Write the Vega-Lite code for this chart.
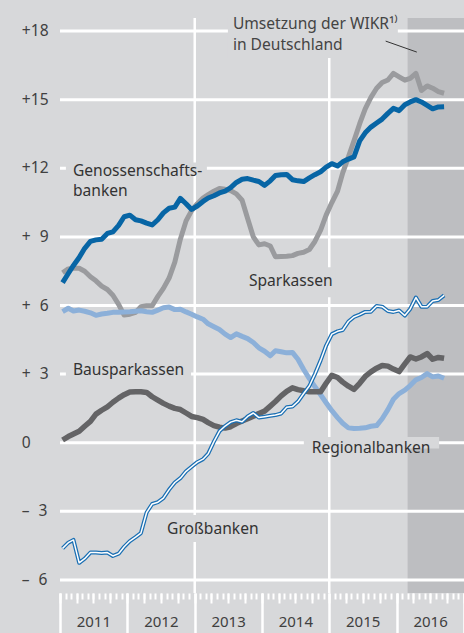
{
  "$schema": "https://vega.github.io/schema/vega-lite/v6.json",
  "width": 404,
  "height": 575,
  "autosize": {"type": "none"},
  "padding": {"left": 60, "top": 18, "right": 0, "bottom": 40},
  "background": "#d7d8da",
  "config": {
    "view": {"stroke": null},
    "font": "Noto Sans",
    "axis": {"labelFont": "Noto Sans", "labelFontSize": 15, "labelColor": "#404040", "grid": false, "domain": false}
  },
  "datasets": {
    "series": [
      {"d": "2011-01-15", "G": 7.0, "S": 7.43, "R": 5.73, "B": 0.12, "GB": -4.62},
      {"d": "2011-02-15", "G": 7.4, "S": 7.6, "R": 5.88, "B": 0.27, "GB": -4.37},
      {"d": "2011-03-15", "G": 7.75, "S": 7.63, "R": 5.76, "B": 0.38, "GB": -4.25},
      {"d": "2011-04-15", "G": 8.1, "S": 7.63, "R": 5.8, "B": 0.5, "GB": -5.25},
      {"d": "2011-05-15", "G": 8.5, "S": 7.5, "R": 5.75, "B": 0.72, "GB": -5.07},
      {"d": "2011-06-15", "G": 8.8, "S": 7.26, "R": 5.68, "B": 0.93, "GB": -4.8},
      {"d": "2011-07-15", "G": 8.87, "S": 7.08, "R": 5.57, "B": 1.25, "GB": -4.8},
      {"d": "2011-08-15", "G": 8.9, "S": 6.85, "R": 5.63, "B": 1.42, "GB": -4.82},
      {"d": "2011-09-15", "G": 9.15, "S": 6.7, "R": 5.66, "B": 1.57, "GB": -4.8},
      {"d": "2011-10-15", "G": 9.22, "S": 6.45, "R": 5.7, "B": 1.77, "GB": -4.95},
      {"d": "2011-11-15", "G": 9.5, "S": 6.05, "R": 5.71, "B": 1.95, "GB": -4.85},
      {"d": "2011-12-15", "G": 9.88, "S": 5.58, "R": 5.72, "B": 2.1, "GB": -4.55},
      {"d": "2012-01-15", "G": 9.95, "S": 5.62, "R": 5.73, "B": 2.22, "GB": -4.3},
      {"d": "2012-02-15", "G": 9.75, "S": 5.7, "R": 5.75, "B": 2.23, "GB": -4.13},
      {"d": "2012-03-15", "G": 9.7, "S": 5.95, "R": 5.77, "B": 2.23, "GB": -3.95},
      {"d": "2012-04-15", "G": 9.6, "S": 5.99, "R": 5.73, "B": 2.2, "GB": -3.05},
      {"d": "2012-05-15", "G": 9.52, "S": 5.99, "R": 5.7, "B": 2.01, "GB": -2.68},
      {"d": "2012-06-15", "G": 9.75, "S": 6.4, "R": 5.8, "B": 1.86, "GB": -2.6},
      {"d": "2012-07-15", "G": 10.05, "S": 6.75, "R": 5.9, "B": 1.72, "GB": -2.42},
      {"d": "2012-08-15", "G": 10.25, "S": 7.2, "R": 5.93, "B": 1.6, "GB": -2.05},
      {"d": "2012-09-15", "G": 10.3, "S": 7.9, "R": 5.82, "B": 1.5, "GB": -1.74},
      {"d": "2012-10-15", "G": 10.68, "S": 8.9, "R": 5.84, "B": 1.45, "GB": -1.55},
      {"d": "2012-11-15", "G": 10.45, "S": 9.7, "R": 5.72, "B": 1.3, "GB": -1.25},
      {"d": "2012-12-15", "G": 10.2, "S": 10.15, "R": 5.62, "B": 1.15, "GB": -1.05},
      {"d": "2013-01-15", "G": 10.35, "S": 10.45, "R": 5.5, "B": 1.1, "GB": -0.85},
      {"d": "2013-02-15", "G": 10.55, "S": 10.7, "R": 5.4, "B": 1.02, "GB": -0.72},
      {"d": "2013-03-15", "G": 10.7, "S": 10.85, "R": 5.2, "B": 0.88, "GB": -0.48},
      {"d": "2013-04-15", "G": 10.8, "S": 11.0, "R": 5.07, "B": 0.75, "GB": 0.05},
      {"d": "2013-05-15", "G": 10.92, "S": 11.12, "R": 4.95, "B": 0.68, "GB": 0.5},
      {"d": "2013-06-15", "G": 11.0, "S": 11.08, "R": 4.75, "B": 0.64, "GB": 0.73},
      {"d": "2013-07-15", "G": 11.15, "S": 11.02, "R": 4.6, "B": 0.7, "GB": 0.9},
      {"d": "2013-08-15", "G": 11.38, "S": 10.88, "R": 4.76, "B": 0.84, "GB": 0.98},
      {"d": "2013-09-15", "G": 11.52, "S": 10.6, "R": 4.65, "B": 0.95, "GB": 0.92},
      {"d": "2013-10-15", "G": 11.55, "S": 9.8, "R": 4.55, "B": 1.05, "GB": 1.15},
      {"d": "2013-11-15", "G": 11.48, "S": 9.0, "R": 4.38, "B": 1.16, "GB": 1.3},
      {"d": "2013-12-15", "G": 11.42, "S": 8.65, "R": 4.15, "B": 1.28, "GB": 1.1},
      {"d": "2014-01-15", "G": 11.25, "S": 8.7, "R": 4.0, "B": 1.38, "GB": 1.14},
      {"d": "2014-02-15", "G": 11.45, "S": 8.6, "R": 3.8, "B": 1.6, "GB": 1.18},
      {"d": "2014-03-15", "G": 11.68, "S": 8.13, "R": 4.02, "B": 1.8, "GB": 1.21},
      {"d": "2014-04-15", "G": 11.72, "S": 8.14, "R": 3.98, "B": 2.05, "GB": 1.28},
      {"d": "2014-05-15", "G": 11.73, "S": 8.15, "R": 3.93, "B": 2.25, "GB": 1.55},
      {"d": "2014-06-15", "G": 11.5, "S": 8.18, "R": 3.95, "B": 2.4, "GB": 1.58},
      {"d": "2014-07-15", "G": 11.45, "S": 8.28, "R": 3.65, "B": 2.32, "GB": 1.8},
      {"d": "2014-08-15", "G": 11.42, "S": 8.33, "R": 3.2, "B": 2.27, "GB": 2.15},
      {"d": "2014-09-15", "G": 11.58, "S": 8.45, "R": 2.8, "B": 2.23, "GB": 2.48},
      {"d": "2014-10-15", "G": 11.72, "S": 8.8, "R": 2.45, "B": 2.23, "GB": 3.0},
      {"d": "2014-11-15", "G": 11.85, "S": 9.3, "R": 2.1, "B": 2.23, "GB": 3.6},
      {"d": "2014-12-15", "G": 12.05, "S": 9.95, "R": 1.75, "B": 2.6, "GB": 4.25},
      {"d": "2015-01-15", "G": 12.2, "S": 10.5, "R": 1.4, "B": 2.95, "GB": 4.75},
      {"d": "2015-02-15", "G": 12.1, "S": 11.0, "R": 1.1, "B": 2.85, "GB": 4.87},
      {"d": "2015-03-15", "G": 12.28, "S": 11.8, "R": 0.85, "B": 2.65, "GB": 4.93},
      {"d": "2015-04-15", "G": 12.4, "S": 12.5, "R": 0.65, "B": 2.47, "GB": 5.3},
      {"d": "2015-05-15", "G": 12.5, "S": 13.2, "R": 0.62, "B": 2.33, "GB": 5.5},
      {"d": "2015-06-15", "G": 13.2, "S": 13.95, "R": 0.63, "B": 2.6, "GB": 5.6},
      {"d": "2015-07-15", "G": 13.55, "S": 14.6, "R": 0.65, "B": 2.9, "GB": 5.72},
      {"d": "2015-08-15", "G": 13.8, "S": 15.1, "R": 0.72, "B": 3.1, "GB": 5.73},
      {"d": "2015-09-15", "G": 13.98, "S": 15.5, "R": 0.75, "B": 3.26, "GB": 5.98},
      {"d": "2015-10-15", "G": 14.15, "S": 15.75, "R": 1.05, "B": 3.38, "GB": 5.95},
      {"d": "2015-11-15", "G": 14.4, "S": 15.86, "R": 1.45, "B": 3.35, "GB": 5.76},
      {"d": "2015-12-15", "G": 14.62, "S": 16.15, "R": 1.9, "B": 3.22, "GB": 5.72},
      {"d": "2016-01-15", "G": 14.52, "S": 16.0, "R": 2.15, "B": 3.11, "GB": 5.78},
      {"d": "2016-02-15", "G": 14.78, "S": 15.85, "R": 2.3, "B": 3.45, "GB": 5.56},
      {"d": "2016-03-15", "G": 14.9, "S": 15.93, "R": 2.5, "B": 3.75, "GB": 5.85},
      {"d": "2016-04-15", "G": 15.0, "S": 16.15, "R": 2.75, "B": 3.66, "GB": 6.35},
      {"d": "2016-05-15", "G": 14.9, "S": 15.4, "R": 2.85, "B": 3.75, "GB": 5.95},
      {"d": "2016-06-15", "G": 14.75, "S": 15.6, "R": 3.02, "B": 3.9, "GB": 5.95},
      {"d": "2016-07-15", "G": 14.6, "S": 15.5, "R": 2.88, "B": 3.65, "GB": 6.2},
      {"d": "2016-08-15", "G": 14.68, "S": 15.35, "R": 2.92, "B": 3.73, "GB": 6.24},
      {"d": "2016-09-15", "G": 14.69, "S": 15.28, "R": 2.82, "B": 3.69, "GB": 6.44}
    ],
    "shade": [{"a": "2016-03-01", "b": "2017-01-01"}],
    "hgrid": [{"v": -6}, {"v": -3}, {"v": 0}, {"v": 3}, {"v": 6}, {"v": 9}, {"v": 12}, {"v": 15}, {"v": 18}],
    "vgrid": [{"d": "2013-01-01"}, {"d": "2015-01-01"}],
    "masks": [
      {"a": "2011-02-02", "b": "2013-03-08", "lo": 11.75, "hi": 12.25},
      {"a": "2011-02-02", "b": "2012-12-12", "lo": 2.75, "hi": 3.25},
      {"a": "2014-08-16", "b": "2016-08-19", "lo": -0.25, "hi": 0.25},
      {"a": "2012-07-13", "b": "2014-01-01", "lo": -4.34, "hi": -3.16},
      {"a": "2013-09-30", "b": "2015-02-06", "lo": 6.36, "hi": 7.67},
      {"a": "2013-06-30", "b": "2016-01-08", "lo": 16.82, "hi": 18.57}
    ],
    "leader": [{"a": "2015-11-03", "b": "2016-04-20", "lo": 17.56, "hi": 17.08}],
    "labels": [
      {"d": "2011-03-12", "v": 11.9, "t": "Genossenschafts-", "k": "main"},
      {"d": "2011-03-12", "v": 11.0, "t": "banken", "k": "main"},
      {"d": "2013-10-22", "v": 7.07, "t": "Sparkassen", "k": "main"},
      {"d": "2011-03-12", "v": 3.2, "t": "Bausparkassen", "k": "main"},
      {"d": "2014-09-28", "v": -0.21, "t": "Regionalbanken", "k": "main"},
      {"d": "2012-08-04", "v": -3.79, "t": "Großbanken", "k": "main"},
      {"d": "2013-07-27", "v": 18.31, "t": "Umsetzung der WIKR¹⁾", "k": "note"},
      {"d": "2013-07-27", "v": 17.39, "t": "in Deutschland", "k": "note"},
      {"d": "2010-06-08", "v": 18, "t": "+18", "k": "axis"},
      {"d": "2010-06-08", "v": 15, "t": "+15", "k": "axis"},
      {"d": "2010-06-08", "v": 12, "t": "+12", "k": "axis"},
      {"d": "2010-06-08", "v": 9, "t": "+\u20079", "k": "axis"},
      {"d": "2010-06-08", "v": 6, "t": "+\u20076", "k": "axis"},
      {"d": "2010-06-08", "v": 3, "t": "+\u20073", "k": "axis"},
      {"d": "2010-06-08", "v": 0, "t": "\u2007\u20070", "k": "axis"},
      {"d": "2010-06-08", "v": -3, "t": "–\u20073", "k": "axis"},
      {"d": "2010-06-08", "v": -6, "t": "–\u20076", "k": "axis"}
    ]
  },
  "data": {"name": "series"},
  "resolve": {"axis": {"x": "independent", "y": "shared"}},
  "layer": [
    {
      "data": {"name": "shade"},
      "mark": {"type": "rect", "color": "#bdbec1"},
      "encoding": {
        "x": {"field": "a", "type": "temporal",
          "scale": {"type": "utc", "domain": [{"year": 2011, "month": 1, "date": 1, "utc": true}, {"year": 2017, "month": 1, "date": 1, "utc": true}]},
          "axis": {"orient": "bottom", "values": [
            {"year": 2011, "month": 1, "date": 1, "utc": true},
            {"year": 2012, "month": 1, "date": 1, "utc": true},
            {"year": 2013, "month": 1, "date": 1, "utc": true},
            {"year": 2014, "month": 1, "date": 1, "utc": true},
            {"year": 2015, "month": 1, "date": 1, "utc": true},
            {"year": 2016, "month": 1, "date": 1, "utc": true},
            {"year": 2017, "month": 1, "date": 1, "utc": true}],
            "labels": false, "ticks": true, "tickSize": 40, "tickWidth": 2.5, "tickColor": "#ffffff", "title": null}},
        "x2": {"field": "b"}
      }
    },
    {
      "data": {"name": "hgrid"},
      "mark": {"type": "rule", "color": "#ffffff", "strokeWidth": 3},
      "encoding": {
        "y": {"field": "v", "type": "quantitative",
          "scale": {"domain": [-6.57, 18.57], "nice": false, "zero": false},
          "axis": null}
      }
    },
    {
      "data": {"name": "vgrid"},
      "mark": {"type": "rule", "color": "#ffffff", "strokeWidth": 2.5},
      "encoding": {
        "x": {"field": "d", "type": "temporal",
          "axis": {"orient": "bottom", "tickCount": {"interval": "month", "step": 1}, "labels": false, "ticks": true, "tickSize": 6, "tickWidth": 2, "tickColor": "#ffffff", "title": null}}
      }
    },
    {
      "data": {"name": "masks"},
      "mark": {"type": "rect", "color": "#d7d8da"},
      "encoding": {
        "x": {"field": "a", "type": "temporal",
          "axis": {"orient": "bottom", "values": [
            {"year": 2011, "month": 7, "date": 1, "utc": true},
            {"year": 2012, "month": 7, "date": 1, "utc": true},
            {"year": 2013, "month": 7, "date": 1, "utc": true},
            {"year": 2014, "month": 7, "date": 1, "utc": true},
            {"year": 2015, "month": 7, "date": 1, "utc": true},
            {"year": 2016, "month": 7, "date": 1, "utc": true}],
            "format": "%Y", "ticks": false, "labelPadding": 21, "title": null}},
        "x2": {"field": "b"},
        "y": {"field": "lo", "type": "quantitative", "axis": null},
        "y2": {"field": "hi"}
      }
    },
    {
      "mark": {"type": "line", "color": "#9a9b9e", "strokeWidth": 5, "strokeJoin": "round"},
      "encoding": {
        "x": {"field": "d", "type": "temporal",
          "axis": {"orient": "bottom", "tickCount": {"interval": "month", "step": 3}, "labels": false, "ticks": true, "tickSize": 10, "tickWidth": 2, "tickColor": "#ffffff", "title": null}},
        "y": {"field": "S", "type": "quantitative",
          "axis": {"orient": "left", "values": [-6, -3, 0, 3, 6, 9, 12, 15, 18],
            "labelExpr": "datum.value > 0 ? (datum.value < 10 ? '+\\u2007' + datum.value : '+' + datum.value) : (datum.value < 0 ? '\\u2013\\u2007' + (-datum.value) : '0')",
            "ticks": false, "labels": true, "labelPadding": 11, "labelColor": "#404040", "labelOpacity": 0, "title": null, "zindex": 2}}
      }
    },
    {
      "mark": {"type": "line", "color": "#8cb0d9", "strokeWidth": 5, "strokeJoin": "round"},
      "encoding": {
        "x": {"field": "d", "type": "temporal", "axis": null},
        "y": {"field": "R", "type": "quantitative", "axis": null}
      }
    },
    {
      "mark": {"type": "line", "color": "#646466", "strokeWidth": 5.5, "strokeJoin": "round"},
      "encoding": {
        "x": {"field": "d", "type": "temporal", "axis": null},
        "y": {"field": "B", "type": "quantitative", "axis": null}
      }
    },
    {
      "mark": {"type": "line", "color": "#1a6fb3", "strokeWidth": 4, "strokeJoin": "round"},
      "encoding": {
        "x": {"field": "d", "type": "temporal", "axis": null},
        "y": {"field": "GB", "type": "quantitative", "axis": null}
      }
    },
    {
      "mark": {"type": "line", "color": "#ffffff", "strokeWidth": 1.5, "strokeJoin": "round"},
      "encoding": {
        "x": {"field": "d", "type": "temporal", "axis": null},
        "y": {"field": "GB", "type": "quantitative", "axis": null}
      }
    },
    {
      "mark": {"type": "line", "color": "#0765a5", "strokeWidth": 5, "strokeJoin": "round"},
      "encoding": {
        "x": {"field": "d", "type": "temporal", "axis": null},
        "y": {"field": "G", "type": "quantitative", "axis": null}
      }
    },
    {
      "data": {"name": "leader"},
      "mark": {"type": "rule", "color": "#333333", "strokeWidth": 1},
      "encoding": {
        "x": {"field": "a", "type": "temporal", "axis": null},
        "x2": {"field": "b"},
        "y": {"field": "lo", "type": "quantitative", "axis": null},
        "y2": {"field": "hi"}
      }
    },
    {
      "data": {"name": "labels"},
      "mark": {"type": "text", "align": "left", "baseline": "middle", "fontSize": 15.6, "font": "Noto Sans"},
      "encoding": {
        "x": {"field": "d", "type": "temporal", "axis": null},
        "y": {"field": "v", "type": "quantitative", "axis": null},
        "text": {"field": "t"},
        "color": {"field": "k", "type": "nominal", "scale": {"domain": ["main", "note", "axis"], "range": ["#333333", "#444444", "#404040"]}, "legend": null}
      }
    }
  ]
}
